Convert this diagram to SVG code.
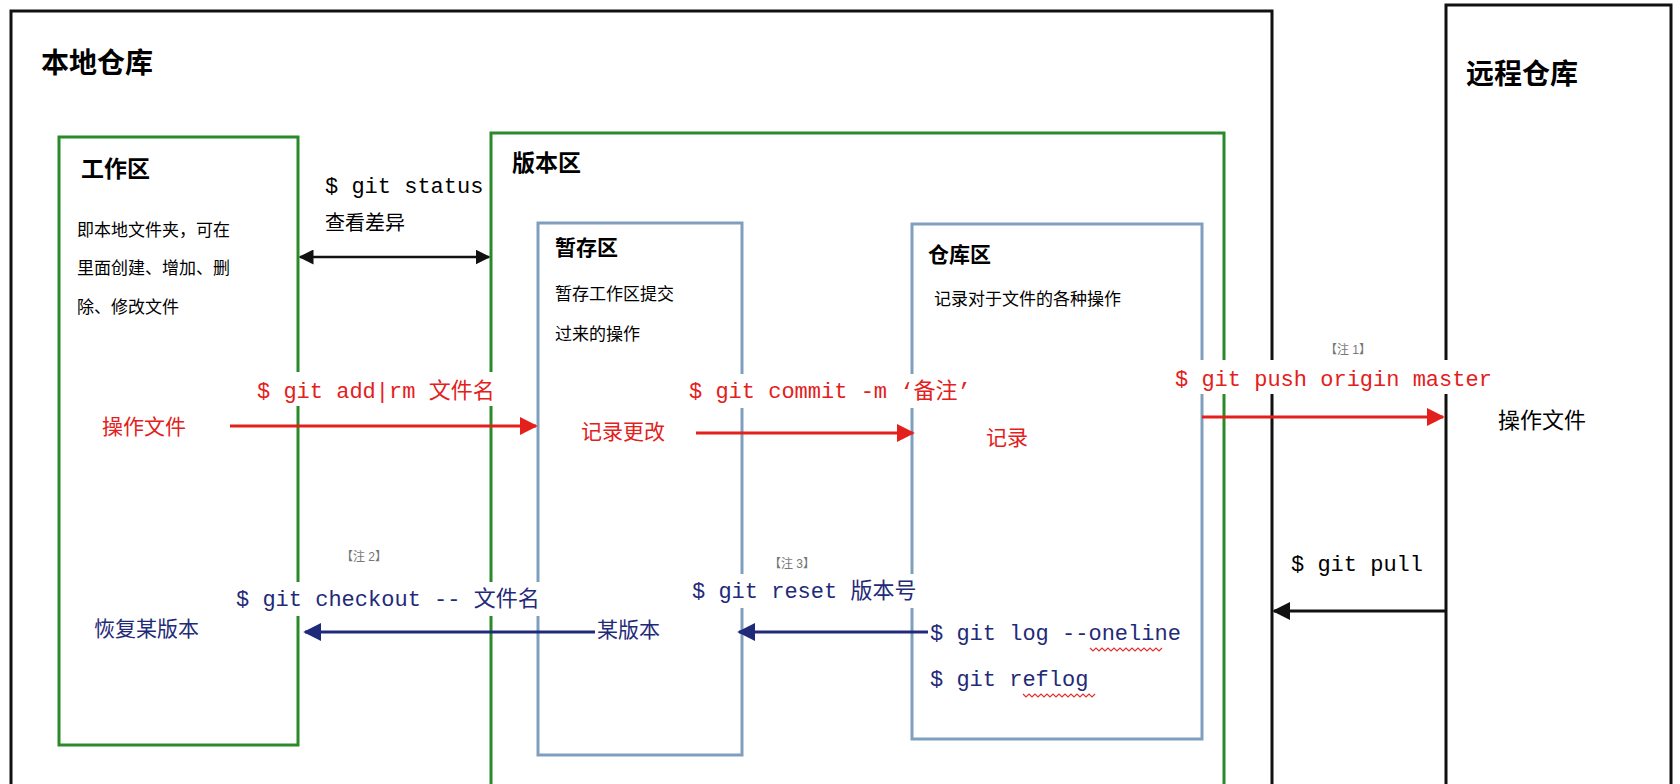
<svg xmlns="http://www.w3.org/2000/svg" width="1680" height="784" viewBox="0 0 1680 784">
<style>
.t{font-family:"Liberation Sans","Noto Sans CJK SC",sans-serif}
.m{font-family:"Liberation Mono","Noto Sans CJK SC",monospace;font-size:22px}
.b{font-weight:bold}
.red{fill:#e3201b}.navy{fill:#1f2a78}
.g{fill:none;stroke:#2a8a2a;stroke-width:3}
.bl{fill:none;stroke:#7f9fbf;stroke-width:3}
.k{fill:none;stroke:#111;stroke-width:3}
.sq{fill:none;stroke:#e03030;stroke-width:1.2}
.w{fill:#fff}
</style>
<defs>
<marker id="ar" viewBox="0 0 10 10" refX="9" refY="5" markerWidth="6" markerHeight="6" orient="auto-start-reverse"><path d="M0,0L10,5L0,10z" fill="#e3201b"/></marker>
<marker id="an" viewBox="0 0 10 10" refX="9" refY="5" markerWidth="6" markerHeight="6" orient="auto-start-reverse"><path d="M0,0L10,5L0,10z" fill="#1f2a78"/></marker>
<marker id="ak" viewBox="0 0 10 10" refX="9" refY="5" markerWidth="6" markerHeight="6" orient="auto-start-reverse"><path d="M0,0L10,5L0,10z" fill="#111"/></marker>
</defs>
<rect width="1680" height="784" fill="#fff"/>
<g id="local">
<path class="k" d="M11,790V11H1272V790"/>
<text class="t b" x="41" y="73" font-size="28">本地仓库</text>
</g>
<g id="remote">
<path class="k" d="M1446,790V5H1671V790"/>
<text class="t b" x="1466" y="84" font-size="28">远程仓库</text>
<text class="t" x="1498" y="428" font-size="22">操作文件</text>
</g>
<g id="workspace">
<rect class="g" x="59" y="137" width="239" height="608"/>
<text class="t b" x="81" y="177" font-size="23">工作区</text>
<text class="t" font-size="17"><tspan x="77" y="236">即本地文件夹，可在</tspan><tspan x="77" y="274">里面创建、增加、删</tspan><tspan x="77" y="313">除、修改文件</tspan></text>
<text class="t red" x="102" y="434" font-size="21">操作文件</text>
<text class="t navy" x="94" y="636" font-size="21">恢复某版本</text>
</g>
<g id="version">
<rect class="g" x="491" y="133" width="733" height="660"/>
<text class="t b" x="512" y="171" font-size="23">版本区</text>
</g>
<g id="stage">
<rect class="bl" x="538" y="223" width="204" height="532"/>
<text class="t b" x="555" y="255" font-size="21">暂存区</text>
<text class="t" font-size="17"><tspan x="555" y="300">暂存工作区提交</tspan><tspan x="555" y="340">过来的操作</tspan></text>
<text class="t red" x="581" y="439" font-size="21">记录更改</text>
<text class="t navy" x="597" y="637" font-size="21">某版本</text>
</g>
<g id="repo">
<rect class="bl" x="912" y="224" width="290" height="515"/>
<text class="t b" x="928" y="262" font-size="21">仓库区</text>
<text class="t" x="934" y="305" font-size="17">记录对于文件的各种操作</text>
<text class="t red" x="986" y="445" font-size="21">记录</text>
<text class="m navy" x="930" y="640">$ git log --oneline</text>
<text class="m navy" x="930" y="686">$ git reflog</text>
<path class="sq" d="M1090,648l3,3l3,-3l3,3l3,-3l3,3l3,-3l3,3l3,-3l3,3l3,-3l3,3l3,-3l3,3l3,-3l3,3l3,-3l3,3l3,-3l3,3l3,-3l3,3l3,-3l3,3l3,-3"/>
<path class="sq" d="M1023,694l3,3l3,-3l3,3l3,-3l3,3l3,-3l3,3l3,-3l3,3l3,-3l3,3l3,-3l3,3l3,-3l3,3l3,-3l3,3l3,-3l3,3l3,-3l3,3l3,-3l3,3l3,-3"/>
</g>
<g id="connectors">
<line x1="300" y1="257" x2="489" y2="257" stroke="#111" stroke-width="2.5" marker-start="url(#ak)" marker-end="url(#ak)"/>
<line x1="230" y1="426" x2="536" y2="426" stroke="#e3201b" stroke-width="3" marker-end="url(#ar)"/>
<line x1="696" y1="433" x2="913" y2="433" stroke="#e3201b" stroke-width="3" marker-end="url(#ar)"/>
<line x1="1202" y1="417" x2="1443" y2="417" stroke="#e3201b" stroke-width="3" marker-end="url(#ar)"/>
<line x1="1446" y1="611" x2="1274" y2="611" stroke="#111" stroke-width="3" marker-end="url(#ak)"/>
<line x1="595" y1="632" x2="305" y2="632" stroke="#1f2a78" stroke-width="3" marker-end="url(#an)"/>
<line x1="928" y1="632" x2="739" y2="632" stroke="#1f2a78" stroke-width="3" marker-end="url(#an)"/>
<text class="m" x="325" y="193">$ git status</text>
<text class="t" x="325" y="230" font-size="20">查看差异</text>
<rect class="w" x="250" y="372" width="260" height="34"/>
<text class="m red" x="257" y="398">$ git add|rm 文件名</text>
<rect class="w" x="682" y="374" width="300" height="34"/>
<text class="m red" x="689" y="398">$ git commit -m  ‘备注’</text>
<text class="t" x="1325" y="354" font-size="12" fill="#777">【注 1】</text>
<rect class="w" x="1168" y="360" width="308" height="34"/>
<text class="m red" x="1175" y="386" font-size="21">$ git push origin master</text>
<text class="m" x="1291" y="571">$ git pull</text>
<text class="t" x="341" y="561" font-size="12" fill="#777">【注 2】</text>
<rect class="w" x="229" y="582" width="328" height="34"/>
<text class="m navy" x="236" y="606">$ git checkout -- 文件名</text>
<text class="t" x="769" y="568" font-size="12" fill="#777">【注 3】</text>
<rect class="w" x="685" y="574" width="240" height="34"/>
<text class="m navy" x="692" y="598">$ git reset 版本号</text>
</g>
</svg>
